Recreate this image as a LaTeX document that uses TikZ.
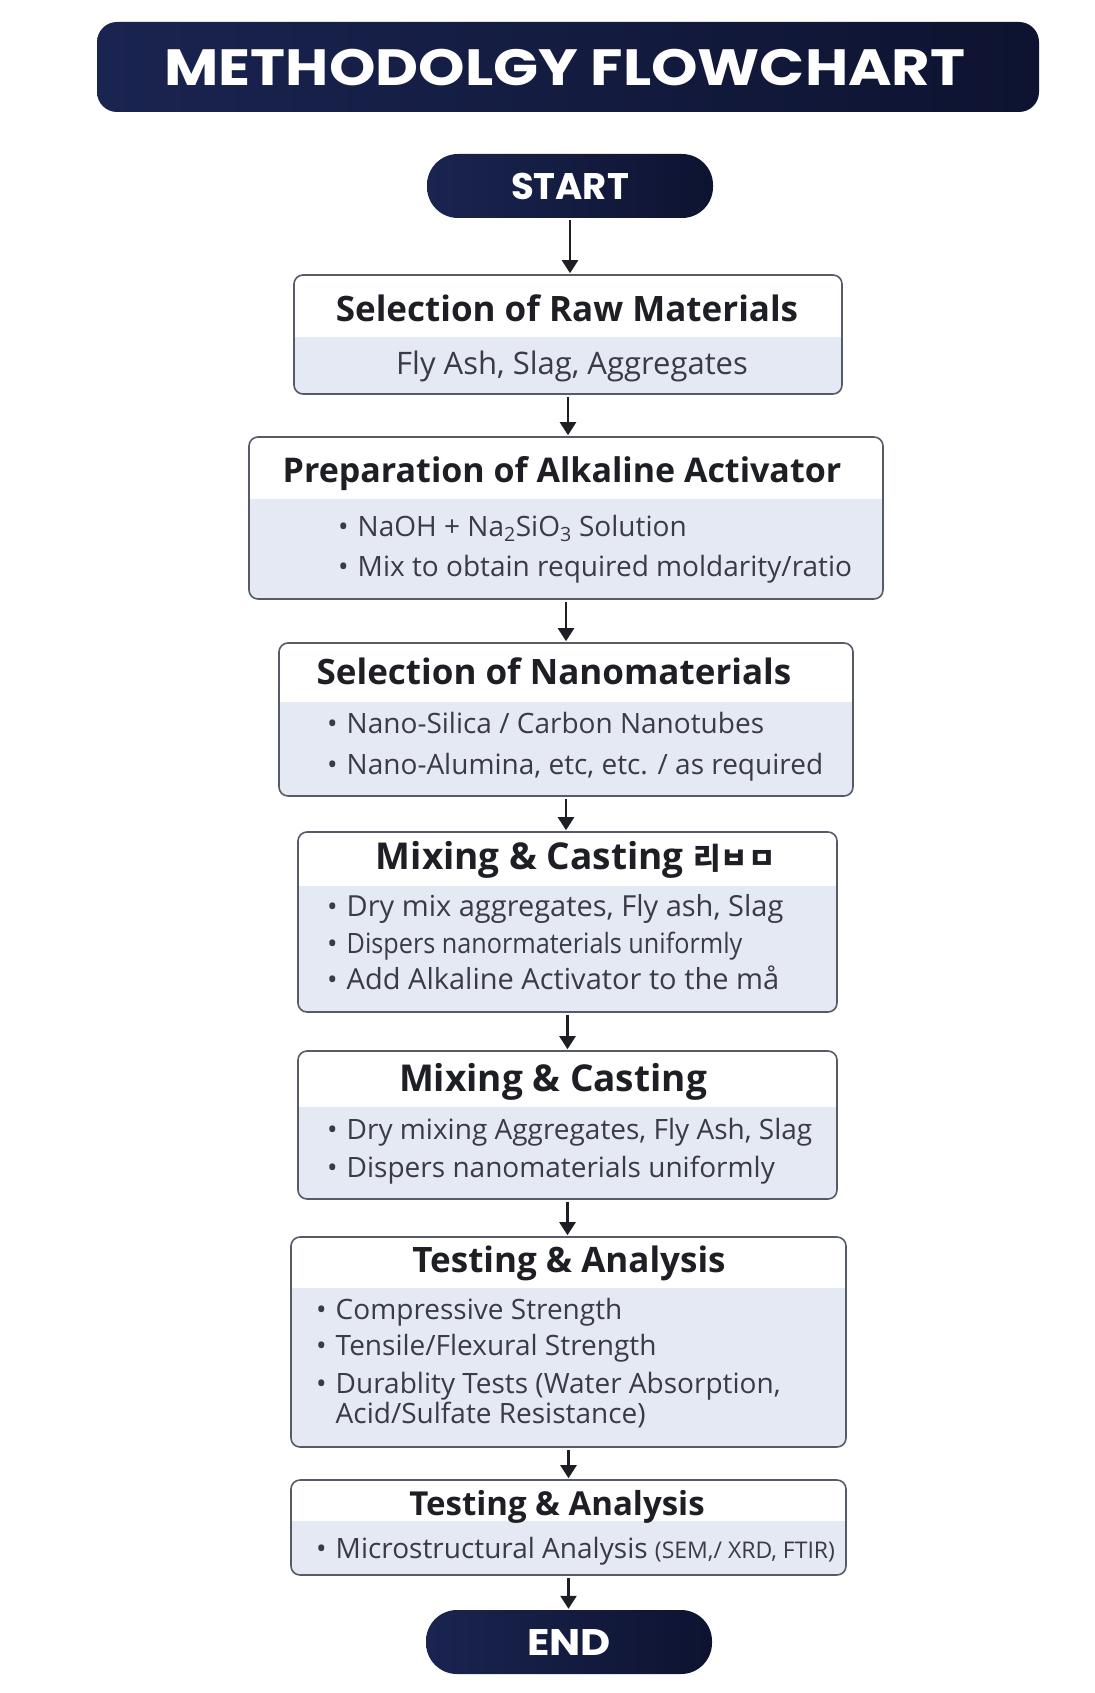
\documentclass[tikz,border=0pt]{standalone}
\usepackage{fontspec}
\setmainfont{Open Sans}
\newfontfamily\titlefont{Poppins}
\newfontfamily\krfont{Noto Sans CJK KR}
\usetikzlibrary{arrows.meta,calc}
\definecolor{navyL}{HTML}{1A2450}
\definecolor{navyR}{HTML}{0D1330}
\definecolor{boxline}{HTML}{565B6A}
\definecolor{bandblue}{HTML}{E5E9F3}
\definecolor{txtdark}{HTML}{1E1F24}
\definecolor{txtgray}{HTML}{3A3C44}
\newcommand{\bul}{{\fontsize{28}{28}\selectfont\textbullet}\hspace{9pt}}
\tikzset{
  titlebox/.style={rounded corners=20pt, left color=navyL, right color=navyR,
    draw=none, inner sep=0pt, text=white},
  pill/.style={rounded corners=31pt, left color=navyL, right color=navyR,
    draw=none, inner sep=0pt, minimum width=286pt, minimum height=64pt,
    text=white, font=\titlefont\bfseries\fontsize{37}{37}\selectfont},
  stepbox/.style n args={3}{draw=boxline, line width=1.6pt, rounded corners=9pt,
    fill=white, inner sep=0pt, minimum width=#1pt, minimum height=#2pt,
    path picture={\fill[bandblue, sharp corners]
      ($(path picture bounding box.north west)+(0pt,-#3pt)$)
      rectangle (path picture bounding box.south east);}},
  headtxt/.style={anchor=base, inner sep=0pt, text=txtdark,
    font=\bfseries\fontsize{35}{35}\selectfont},
  bodytxt/.style={anchor=base west, inner sep=0pt, text=txtgray,
    font=\fontsize{28}{28}\selectfont},
  flow/.style={draw=txtdark, line width=2.4pt,
    -{Triangle[width=16pt,length=13pt]}, shorten <=2pt, shorten >=1pt}
}
\begin{document}
\begin{tikzpicture}[x=1pt, y=-1pt]
\useasboundingbox[fill=white] (0,0) rectangle (1094,1693);
% title and terminals
\node[titlebox, minimum width=942pt, minimum height=90pt] (title) at (568,67) {};
\node[anchor=base, inner sep=0pt, text=white,
  font=\titlefont\bfseries\fontsize{51}{51}\selectfont] (titleT) at (565,86)
  {\scalebox{1.16}[1]{METHODOLGY FLOWCHART}};
\node[pill] (start) at (570,186) {START};
\node[pill] (end) at (569,1642) {\scalebox{1.12}[1]{END}};

% steps
\node[stepbox={548}{119}{62}] (raw) at (568,334.5) {};
\node[headtxt] (rawH) at (567,321) {Selection of Raw Materials};
\node[bodytxt, anchor=base, font=\fontsize{31}{31}\selectfont] (rawT) at (572,374)
  {Fly Ash, Slag, Aggregates};

\node[stepbox={634}{162}{62}] (alk) at (566,518) {};
\node[headtxt, font=\bfseries\fontsize{34}{34}\selectfont] (alkH) at (562,482)
  {Preparation of Alkaline Activator};
\node[bodytxt] (alkT1) at (338,536)
  {\bul NaOH + Na\textsubscript{2}SiO\textsubscript{3} Solution};
\node[bodytxt] (alkT2) at (338,576) {\bul Mix to obtain required moldarity/ratio};

\node[stepbox={574}{153}{59}] (nano) at (566,719.5) {};
\node[headtxt] (nanoH) at (554,684) {Selection of Nanomaterials};
\node[bodytxt] (nanoT1) at (327,733) {\bul Nano-Silica / Carbon Nanotubes};
\node[bodytxt] (nanoT2) at (327,774) {\bul Nano-Alumina, etc, etc. / as required};

\node[stepbox={539}{180}{54}] (mixA) at (567.5,922) {};
\node[headtxt, font=\bfseries\fontsize{37}{37}\selectfont] (mixAH) at (576,869)
  {Mixing \& Casting {\krfont\bfseries\fontsize{30}{30}\selectfont 리ㅂㅁ}};
\node[bodytxt, font=\fontsize{29}{29}\selectfont] (mixAT1) at (327,916)
  {\bul Dry mix aggregates, Fly ash, Slag};
\node[bodytxt] (mixAT2) at (327,953)
  {\bul \scalebox{0.9}[1]{Dispers nanormaterials uniformly}};
\node[bodytxt, font=\fontsize{29}{29}\selectfont] (mixAT3) at (327,989)
  {\bul Add Alkaline Activator to the må};

\node[stepbox={539}{148}{56}] (mixB) at (567.5,1125) {};
\node[headtxt, font=\bfseries\fontsize{37}{37}\selectfont] (mixBH) at (553,1091)
  {Mixing \& Casting};
\node[bodytxt] (mixBT1) at (327,1139) {\bul Dry mixing Aggregates, Fly Ash, Slag};
\node[bodytxt] (mixBT2) at (327,1177) {\bul Dispers nanomaterials uniformly};

\node[stepbox={555}{210}{51}] (testA) at (568.5,1342) {};
\node[headtxt] (testAH) at (569,1272) {Testing \& Analysis};
\node[bodytxt] (testAT1) at (316,1319) {\bul Compressive Strength};
\node[bodytxt] (testAT2) at (316,1355) {\bul Tensile/Flexural Strength};
\node[bodytxt] (testAT3) at (316,1393) {\bul Durablity Tests (Water Absorption,};
\node[bodytxt] (testAT4) at (316,1423) {\phantom{\bul}Acid/Sulfate Resistance)};

\node[stepbox={555}{95}{41}] (testB) at (568.5,1527.5) {};
\node[headtxt, font=\bfseries\fontsize{33}{33}\selectfont] (testBH) at (557,1515)
  {Testing \& Analysis};
\node[bodytxt] (testBT) at (316,1558)
  {\bul Microstructural Analysis {\fontsize{23}{23}\selectfont(SEM,/ XRD, FTIR)}};

% connectors
\draw[flow] (start.south) -- (start.south |- raw.north);
\draw[flow] (raw.south) -- (raw.south |- alk.north);
\draw[flow] (alk.south) -- (alk.south |- nano.north);
\draw[flow] (nano.south) -- (nano.south |- mixA.north);
\draw[flow] (mixA.south) -- (mixA.south |- mixB.north);
\draw[flow] (mixB.south) -- (mixB.south |- testA.north);
\draw[flow] (testA.south) -- (testA.south |- testB.north);
\draw[flow] (testB.south) -- (testB.south |- end.north);
\end{tikzpicture}
\end{document}
